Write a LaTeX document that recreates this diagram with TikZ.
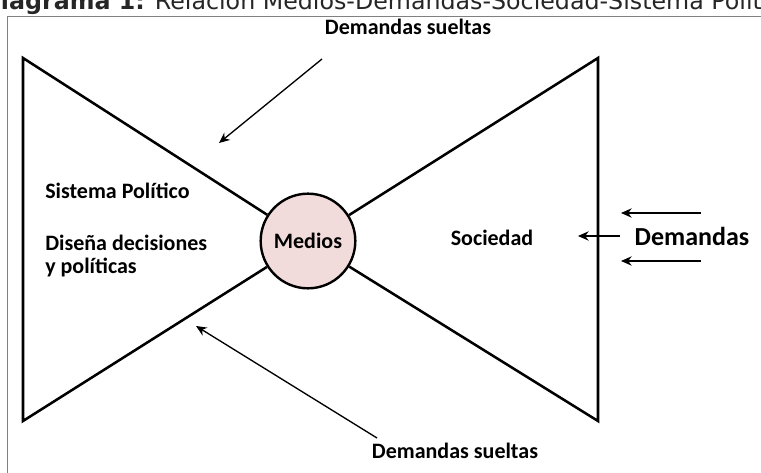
\documentclass[tikz,border=0pt]{standalone}
\usepackage{fontspec}
\setmainfont{Carlito}
\newfontfamily\capfont{DejaVu Sans}
\usetikzlibrary{positioning,arrows.meta}
\definecolor{medfill}{HTML}{F2DCDB}
\tikzset{ell/.style={circle,draw,line width=1.8pt,fill=medfill,minimum size=71pt,inner sep=0pt,font=\bfseries\fontsize{16.5}{18}\selectfont}}
\tikzset{lbl/.style={font=\bfseries\fontsize{16.5}{17.3}\selectfont,inner sep=0pt,align=left}}
\tikzset{side/.style={line width=1.9pt,line join=miter}}

\begin{document}
\begin{tikzpicture}[x=0.75pt,y=-0.75pt,>={Stealth[length=8pt,width=7pt]}]
    \useasboundingbox (0,0) rectangle (761,473);
    % caption (cut at the top)
    \node[anchor=base west,inner sep=0pt,text=black!85,font=\capfont\fontsize{17.8}{20}\selectfont] (cap) at (-19,10) {\textbf{Diagrama 1:} Relación Medios-Demandas-Sociedad-Sistema Político};
    \draw[gray,line width=0.6pt] (7,473) -- (7,16) -- (761,16);

    % bow tie
    \coordinate (tl) at (23,58);
    \coordinate (bl) at (23,421);
    \coordinate (tr) at (598,58);
    \coordinate (br) at (598,421);
    \node[ell] (m) at (308,241) {Medios};

    \draw [side] (m) -- (tl) -- (bl) -- (m);
    \draw [side] (m) -- (tr) -- (br) -- (m);

    \node[lbl] (sp) at (45,191) [anchor=west] {Sistema Político};
    \node[lbl] (dd) at (45,256) [anchor=west] {Diseña decisiones\\y políticas};
    \node[lbl] (so) at (492,238) {Sociedad};

    % demandas sueltas
    \node[lbl] (ds1) at (408,27) {Demandas sueltas};
    \node[lbl] (ds2) at (455,451) {Demandas sueltas};
    \coordinate (a1) at (322,59);
    \coordinate (b1) at (219,143);
    \coordinate (a2) at (377,438);
    \coordinate (b2) at (196,326);
    \draw [->,line width=1pt] (a1) -- (b1);
    \draw [->,line width=1pt] (a2) -- (b2);

    % demandas
    \node[font=\bfseries\fontsize{19.5}{22}\selectfont,inner sep=0pt] (dm) at (692,236) {Demandas};
    \coordinate (c1) at (701,213);
    \coordinate (d1) at (621,213);
    \coordinate (c2) at (620,236);
    \coordinate (d2) at (578,236);
    \coordinate (c3) at (701,261);
    \coordinate (d3) at (621,261);
    \draw [->,line width=1pt] (c1) -- (d1);
    \draw [->,line width=1pt] (c2) -- (d2);
    \draw [->,line width=1pt] (c3) -- (d3);
\end{tikzpicture}
\end{document}
